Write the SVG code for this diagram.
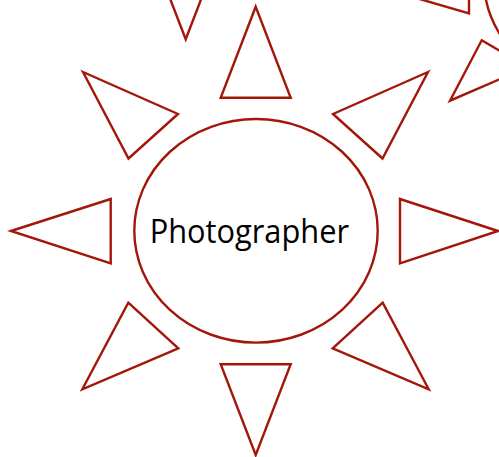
<svg xmlns="http://www.w3.org/2000/svg" width="499" height="457" viewBox="0 0 499 457">
<style>
.s{fill:#ffffff;stroke:#a3160a;stroke-width:2.4;stroke-linejoin:miter}
.t{font-family:"Open Sans","Liberation Sans",sans-serif;font-size:32px;fill:#000000}
</style>
<rect width="499" height="457" fill="#ffffff"/>
<g id="neighbors">
<polygon class="s" points="185.7,39.3 150.7,-51.7 220.7,-51.7"/>
<polygon class="s" points="369.3,-15.5 469,-51 469,13.3"/>
<ellipse class="s" cx="584" cy="-20" rx="100" ry="100"/>
<polygon class="s" points="481.7,40.3 527.8,67.1 450,100.7"/>
</g>
<g id="connectors">
<polygon class="s" points="255.7,6.7 290.7,97.7 220.7,97.7"/>
<polygon class="s" points="83,72 178,114 128.5,158.5"/>
<polygon class="s" points="428,72 333,114 382.5,158.5"/>
<polygon class="s" points="11,231 110.7,199 110.7,263.3"/>
<polygon class="s" points="498,231 400,199 400,263.3"/>
<polygon class="s" points="128.3,302.7 178.3,348.3 82.3,389.3"/>
<polygon class="s" points="382.7,302.7 332.7,348.3 428.7,389.3"/>
<polygon class="s" points="220.7,364.3 290.7,364.3 255.7,455"/>
</g>
<g id="photographer">
<ellipse class="s" cx="256" cy="230.8" rx="121.7" ry="111.8"/>
<text class="t" x="149.7" y="242.7" textLength="199.3" lengthAdjust="spacingAndGlyphs">Photographer</text>
</g>
</svg>
